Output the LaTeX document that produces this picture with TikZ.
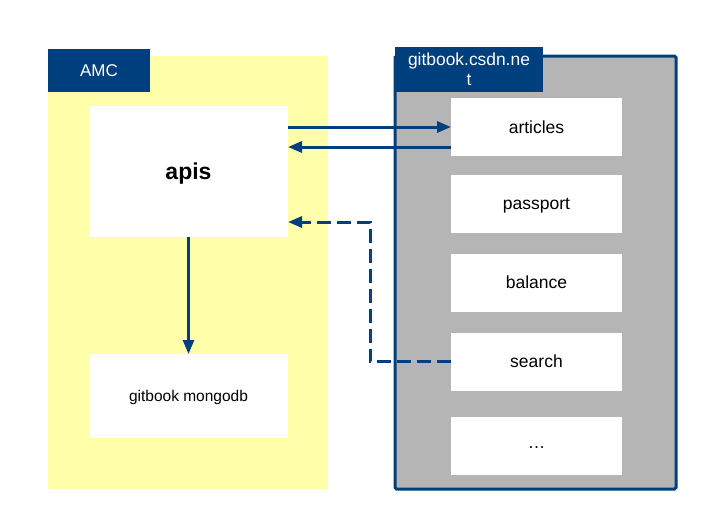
\documentclass[tikz,border=0pt]{standalone}
\usepackage{fontspec}
\setmainfont{Liberation Sans}
\usetikzlibrary{arrows.meta}
\definecolor{amcblue}{RGB}{0,63,125}
\definecolor{amcyellow}{RGB}{255,255,170}
\definecolor{sitegray}{RGB}{181,181,181}
\begin{document}
\begin{tikzpicture}[x=1pt, y=-1pt]
        \tikzstyle{panel} = [inner sep=0pt, outer sep=0pt]
        \tikzstyle{tag} = [panel, fill=amcblue, text=white, font=\fontsize{17}{20}\selectfont]
        \tikzstyle{svc} = [panel, fill=white, minimum width=171pt, minimum height=58pt, text depth=0pt, font=\fontsize{17.5}{20}\selectfont]
        \tikzstyle{blk} = [draw=amcblue, line width=3pt, -{Triangle[length=14pt, width=11pt]}]
        \useasboundingbox (0, 0) rectangle (708, 520);

        % AMC side
        \node[panel, fill=amcyellow, minimum width=280pt, minimum height=433pt] (amc) at (188, 272.5) {};
        \node[tag, minimum width=102pt, minimum height=43pt] (amc label) at (99, 70.5) {AMC};
        \node[panel, fill=white, minimum width=199pt, minimum height=131pt, text depth=0pt, font=\fontsize{23}{26}\selectfont\bfseries] (apis) at (188.5, 171.5) {apis};
        \node[panel, fill=white, minimum width=199pt, minimum height=84pt, text depth=0pt, font=\fontsize{15.5}{18}\selectfont] (mongodb) at (188.5, 396) {gitbook mongodb};

        % gitbook side
        \node[panel, draw=amcblue, line width=3pt, fill=sitegray, rounded corners=1.5pt, minimum width=281pt, minimum height=433pt] (site) at (535.5, 272.5) {};
        \node[tag, minimum width=148pt, minimum height=45pt, align=center, font=\fontsize{17.4}{20}\selectfont] (site label) at (469, 69.5) {gitbook.csdn.ne\\t};
        \node[svc] (articles) at (536.5, 127) {articles};
        \node[svc] (passport) at (536.5, 203.5) {passport};
        \node[svc] (balance) at (536.5, 282.5) {balance};
        \node[svc] (search) at (536.5, 361.5) {search};
        \node[svc, text height=5pt] (more) at (536.5, 446) {\dots};

        \coordinate (bend) at (370, 222);

        \path[blk] (articles.west -| apis.east) to (articles.west);
        \path[blk] ([yshift=-20pt]articles.west) to ([yshift=-20pt]articles.west -| apis.east);
        \path[blk] (apis.south) to (mongodb.north);
        \draw[blk, dash pattern=on 14pt off 6pt] (search.west) -| (bend) -- (bend -| apis.east);
    \end{tikzpicture}
\end{document}
